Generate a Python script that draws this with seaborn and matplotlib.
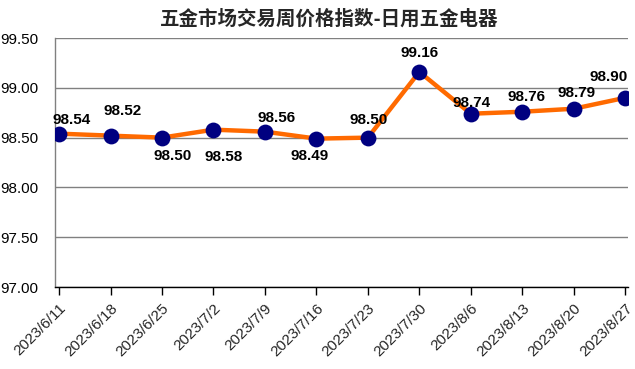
import pandas as pd
import matplotlib.pyplot as plt
import matplotlib.transforms as mtransforms
import seaborn as sns

# data
dates = ["2023/6/11", "2023/6/18", "2023/6/25", "2023/7/2", "2023/7/9", "2023/7/16",
         "2023/7/23", "2023/7/30", "2023/8/6", "2023/8/13", "2023/8/20", "2023/8/27"]
values = [98.54, 98.52, 98.50, 98.58, 98.56, 98.49, 98.50, 99.16, 98.74, 98.76, 98.79, 98.90]
y_ticks = [97.0, 97.5, 98.0, 98.5, 99.0, 99.5]

df = pd.DataFrame({"x": range(len(dates)), "value": values})

sns.set_theme(style="white")
plt.rcParams['font.family'] = ['Liberation Sans', 'DejaVu Sans']

fig = plt.figure(figsize=(6.35, 3.69), dpi=100)
ax = fig.add_axes([0.0866, 0.222, 0.902, 0.675])

sns.lineplot(data=df, x="x", y="value", color="#ff6a00", linewidth=3.2, ax=ax, zorder=2)
sns.scatterplot(data=df, x="x", y="value", color="#000080", s=130, edgecolor="#000080",
                linewidth=0, ax=ax, zorder=3)

# label offsets in pixels (dx, dy)
offsets = [(13, 14), (12, 25), (11, -18), (10, -27), (12, 14), (-7, -17),
           (1, 18), (0, 19), (1, 11), (4, 15), (3, 16), (-17, 21)]
for i, v in enumerate(values):
    dx, dy = offsets[i]
    ax.annotate(f"{v:.2f}", (i, v), xytext=(dx, dy), textcoords="offset pixels",
                ha="center", va="center", fontsize=11, fontweight="bold", color="black",
                zorder=4)

ax.set_xlim(-0.08, 11.05)
ax.set_ylim(97.0, 99.5)
ax.set_yticks(y_ticks)
ax.set_yticklabels([f"{t:.2f}" for t in y_ticks], fontsize=11, color="black")
ax.set_xticks(range(len(dates)))
ax.set_xticklabels(dates, rotation=45, ha="right", rotation_mode="anchor", fontsize=11)
shift = mtransforms.ScaledTranslation(7 / 100, -10 / 100, fig.dpi_scale_trans)
for lab in ax.get_xticklabels():
    lab.set_transform(lab.get_transform() + shift)
ax.tick_params(axis="y", length=0, pad=12)
ax.tick_params(axis="x", bottom=True, length=6, width=1, color="black", direction="out", pad=4)
ax.yaxis.grid(True, color="#808080", linewidth=1)
ax.set_axisbelow(True)
ax.set_xlabel("")
ax.set_ylabel("")

for side in ["top", "right"]:
    ax.spines[side].set_visible(False)
ax.spines["left"].set_color("#808080")
ax.spines["left"].set_linewidth(1)
ax.spines["bottom"].set_color("black")
ax.spines["bottom"].set_linewidth(1)

fig.text(329 / 635, 0.949, "五金市场交易周价格指数-日用五金电器", ha="center", va="center",
         fontsize=14, fontweight="bold", family=["Noto Sans CJK SC", "DejaVu Sans"])

fig.savefig("out.png", dpi=100)
